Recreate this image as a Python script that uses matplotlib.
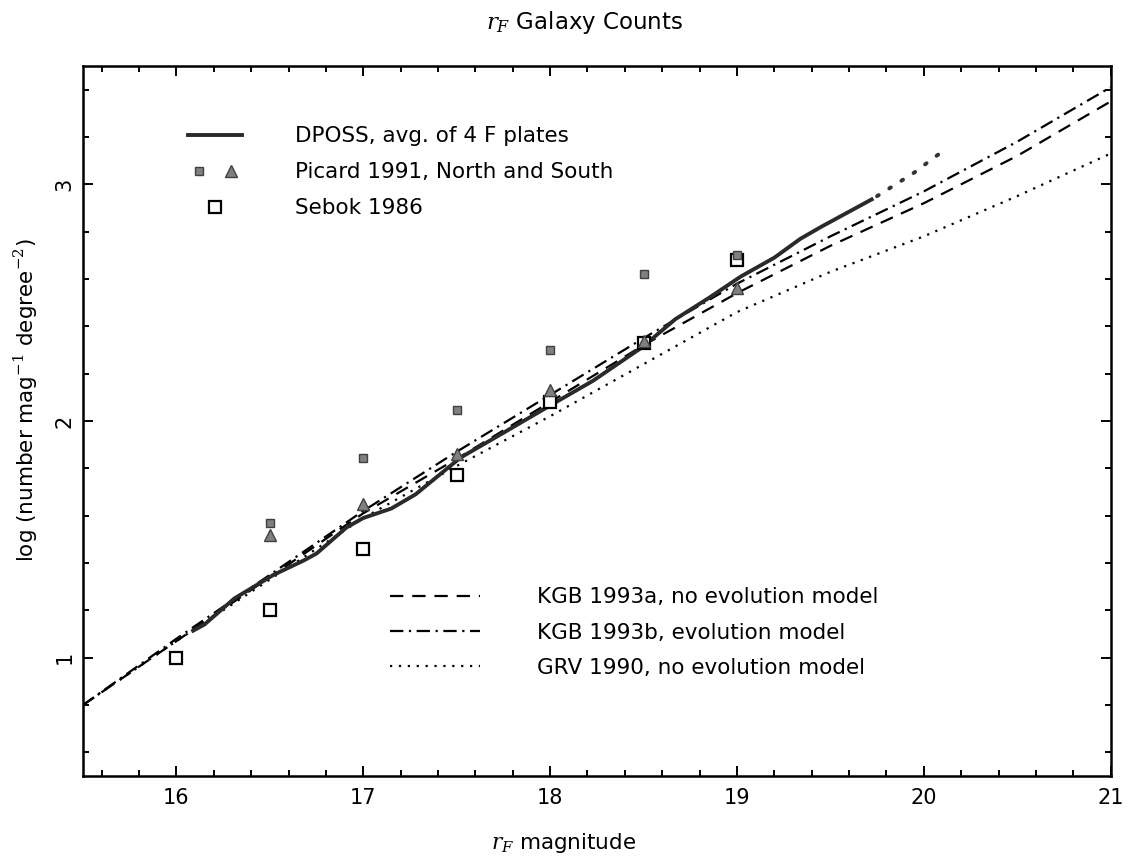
import numpy as np
import matplotlib
matplotlib.use("Agg")
import matplotlib.pyplot as plt
from matplotlib.lines import Line2D
from matplotlib.legend_handler import HandlerTuple
from matplotlib.ticker import MultipleLocator

plt.rcParams['font.family'] = ['DejaVu Sans']
plt.rcParams['mathtext.fontset'] = 'dejavuserif'

# DPOSS average of 4 F plates (solid curve)
dposs_mag = [16.08, 16.15, 16.31, 16.52, 16.68, 16.75, 16.91, 17.00, 17.15, 17.28,
             17.52, 17.75, 18.01, 18.23, 18.49, 18.67, 18.85, 19.02, 19.20, 19.34,
             19.45, 19.73]
dposs_log = [1.11, 1.14, 1.25, 1.35, 1.41, 1.44, 1.55, 1.59, 1.63, 1.69,
             1.845, 1.95, 2.07, 2.17, 2.31, 2.43, 2.52, 2.61, 2.69, 2.77,
             2.82, 2.94]
# faint dotted continuation of the DPOSS counts
dposs_ext_mag = [19.75, 19.85, 19.95, 20.05, 20.12]
dposs_ext_log = [2.95, 3.00, 3.05, 3.11, 3.15]

# model predictions
model_mag = [15.5, 16.0, 16.5, 17.0, 17.5, 18.0, 18.5, 19.0, 19.5, 20.0, 20.5, 21.0]
kgb_a = [0.80, 1.07, 1.34, 1.61, 1.84, 2.08, 2.32, 2.54, 2.74, 2.92, 3.12, 3.35]
kgb_b = [0.80, 1.08, 1.35, 1.62, 1.87, 2.11, 2.35, 2.58, 2.78, 2.97, 3.18, 3.41]
grv = [0.80, 1.07, 1.33, 1.59, 1.81, 2.02, 2.24, 2.46, 2.63, 2.78, 2.95, 3.13]

# literature counts
picard_mag = [16.5, 17.0, 17.5, 18.0, 18.5, 19.0]
picard_north = [1.57, 1.845, 2.045, 2.30, 2.62, 2.70]
picard_south = [1.52, 1.65, 1.86, 2.13, 2.34, 2.56]
sebok_mag = [16.0, 16.5, 17.0, 17.5, 18.0, 18.5, 19.0]
sebok_log = [1.00, 1.20, 1.46, 1.77, 2.08, 2.33, 2.68]

FS = 15.5

fig = plt.figure(figsize=(11.28, 8.6), dpi=100)
ax = fig.add_axes([0.0736, 0.0977, 0.911, 0.8256])

ax.plot(model_mag, kgb_a, color='black', lw=1.6, ls=(0, (6, 4)))
ax.plot(model_mag, kgb_b, color='black', lw=1.6, ls=(0, (6, 2.5, 1, 2.5)))
ax.plot(model_mag, grv, color='black', lw=1.6, ls=(0, (1, 3)))
ax.plot(dposs_mag, dposs_log, color='#2a2a2a', lw=2.8, solid_capstyle='butt')
ax.plot(dposs_ext_mag, dposs_ext_log, color='#333333', lw=2.8, ls=(0, (0.5, 3.2)),
        dash_capstyle='round')

ax.plot(sebok_mag, sebok_log, ls='none', marker='s', ms=9,
        mfc='white', mec='black', mew=1.6)
ax.plot(picard_mag, picard_north, ls='none', marker='s', ms=5.5,
        mfc='#808080', mec='#404040', mew=1)
ax.plot(picard_mag, picard_south, ls='none', marker='^', ms=9,
        mfc='#808080', mec='#404040', mew=1)

ax.set_xlim(15.5, 21)
ax.set_ylim(0.5, 3.5)
ax.xaxis.set_major_locator(MultipleLocator(1))
ax.xaxis.set_minor_locator(MultipleLocator(0.2))
ax.yaxis.set_major_locator(MultipleLocator(1))
ax.yaxis.set_minor_locator(MultipleLocator(0.2))
ax.tick_params(which='both', direction='in', top=True, right=True, width=1.4,
               labelsize=15)
ax.tick_params(which='major', length=7.5)
ax.tick_params(which='minor', length=4)
ax.tick_params(axis='x', pad=9)
ax.tick_params(axis='y', pad=6, labelrotation=90)
for lab in ax.get_yticklabels():
    lab.set_va('center')
for s in ax.spines.values():
    s.set_linewidth(1.8)

ax.set_ylabel(r'log (number mag$^{-1}$ degree$^{-2}$)', fontsize=FS)
ax.yaxis.set_label_coords(-0.042, 0.53)
fig.text(0.5, 0.020, r'$r_F$ magnitude', fontsize=FS, ha='center', va='center')
fig.text(0.518, 0.974, r'$r_F$ Galaxy Counts', fontsize=16.5, ha='center', va='center')

# legends
h_dposs = Line2D([], [], color='#2a2a2a', lw=2.8)
h_pn = Line2D([], [], ls='none', marker='s', ms=5.5, mfc='#808080', mec='#404040')
h_ps = Line2D([], [], ls='none', marker='^', ms=9, mfc='#808080', mec='#404040')
h_seb = Line2D([], [], ls='none', marker='s', ms=9, mfc='white', mec='black', mew=1.6)
leg1 = ax.legend([h_dposs, (h_pn, h_ps), h_seb],
                 ['DPOSS, avg. of 4 F plates', 'Picard 1991, North and South', 'Sebok 1986'],
                 handler_map={tuple: HandlerTuple(ndivide=None, pad=0.4)},
                 loc='upper left', bbox_to_anchor=(0.1667, 0.853),
                 bbox_transform=fig.transFigure, frameon=False, fontsize=FS,
                 handlelength=2.5, handletextpad=2.45, labelspacing=0.74,
                 borderpad=0, borderaxespad=0)
ax.add_artist(leg1)

h_a = Line2D([], [], color='black', lw=1.6, ls=(0, (6, 4)))
h_b = Line2D([], [], color='black', lw=1.6, ls=(0, (6, 2.5, 1, 2.5)))
h_g = Line2D([], [], color='black', lw=1.6, ls=(0, (1, 3)))
ax.legend([h_a, h_b, h_g],
          ['KGB 1993a, no evolution model', 'KGB 1993b, evolution model',
           'GRV 1990, no evolution model'],
          loc='upper left', bbox_to_anchor=(0.3457, 0.317),
          bbox_transform=fig.transFigure, frameon=False, fontsize=FS,
          handlelength=4.2, handletextpad=2.65, labelspacing=0.71,
          borderpad=0, borderaxespad=0)

fig.savefig('out.png', dpi=100)
